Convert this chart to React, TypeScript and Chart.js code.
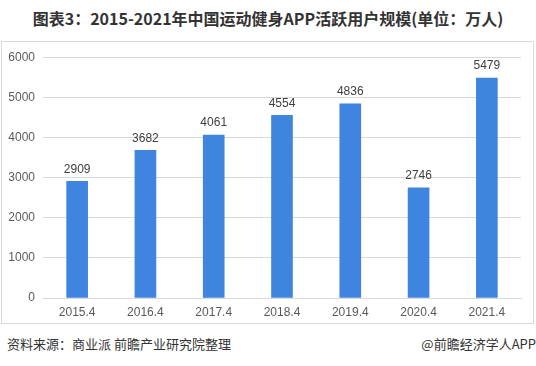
import React, { useEffect, useRef } from "react";
import { Chart, registerables } from "chart.js";

Chart.register(...registerables);

const categories = ["2015.4", "2016.4", "2017.4", "2018.4", "2019.4", "2020.4", "2021.4"];
const users = [2909, 3682, 4061, 4554, 4836, 2746, 5479];
const yTicks = [0, 1000, 2000, 3000, 4000, 5000, 6000];

const title = "图表3：2015-2021年中国运动健身APP活跃用户规模(单位：万人)";
const source = "资料来源：商业派 前瞻产业研究院整理";
const credit = "@前瞻经济学人APP";

const FONT = "'Liberation Sans', Arial, 'Noto Sans CJK SC', sans-serif";
const CJK = "'Noto Sans CJK SC', 'Microsoft YaHei', sans-serif";

const valueLabels = {
  id: "valueLabels",
  afterDatasetsDraw(chart: any) {
    const ctx = chart.ctx;
    const meta = chart.getDatasetMeta(0);
    ctx.save();
    ctx.font = `12px ${FONT}`;
    ctx.fillStyle = "#404040";
    ctx.textAlign = "center";
    ctx.textBaseline = "bottom";
    meta.data.forEach((bar: any, i: number) => {
      ctx.fillText(String(chart.data.datasets[0].data[i]), bar.x, bar.y - 6);
    });
    ctx.restore();
  },
};

export default function App() {
  const ref = useRef<HTMLCanvasElement>(null);
  useEffect(() => {
    if (!ref.current) return;
    const chart = new Chart(ref.current, {
      type: "bar",
      data: {
        labels: categories,
        datasets: [
          {
            data: users,
            backgroundColor: "#3F85E0",
            barThickness: 21,
          },
        ],
      },
      options: {
        animation: false,
        responsive: false,
        maintainAspectRatio: false,
        layout: { padding: { left: 0, right: 12, top: 14, bottom: 0 } },
        plugins: { legend: { display: false }, tooltip: { enabled: false } },
        scales: {
          x: {
            grid: { display: false, drawTicks: false },
            border: { display: true, color: "#d9d9d9" },
            ticks: {
              padding: 7,
              color: "#595959",
              font: { family: FONT, size: 12 },
            },
            afterFit(scale: any) {
              scale.height = 25;
            },
          },
          y: {
            min: 0,
            max: yTicks[yTicks.length - 1],
            afterBuildTicks(scale: any) {
              scale.ticks = yTicks.map((v) => ({ value: v }));
            },
            grid: { color: "#d9d9d9", drawTicks: false },
            border: { display: false },
            ticks: {
              padding: 8,
              color: "#595959",
              font: { family: FONT, size: 12 },
              callback: (v: any) => String(v),
            },
            afterFit(scale: any) {
              scale.width = 41;
            },
          },
        },
      },
      plugins: [valueLabels],
    });
    return () => chart.destroy();
  }, []);

  return (
    <div
      style={{
        position: "absolute",
        left: 0,
        top: 0,
        width: 536,
        height: 366,
        background: "#fff",
        overflow: "hidden",
      }}
    >
      <div
        style={{
          position: "absolute",
          left: 0,
          top: 7,
          width: 536,
          textAlign: "center",
          fontFamily: CJK,
          fontWeight: 700,
          fontSize: 16,
          lineHeight: "22px",
          color: "#333",
          whiteSpace: "nowrap",
        }}
      >
        {title}
      </div>
      <div
        style={{
          position: "absolute",
          left: 1,
          top: 41,
          width: 531,
          height: 281,
          border: "1px solid #d9d9d9",
        }}
      >
        <canvas ref={ref} width={531} height={281} style={{ display: "block" }} />
      </div>
      <div
        style={{
          position: "absolute",
          left: 7,
          top: 334,
          fontFamily: CJK,
          fontSize: 13,
          lineHeight: "20px",
          color: "#333",
          whiteSpace: "nowrap",
        }}
      >
        {source}
      </div>
      <div
        style={{
          position: "absolute",
          right: 0,
          top: 334,
          fontFamily: CJK,
          fontSize: 13,
          lineHeight: "20px",
          color: "#333",
          whiteSpace: "nowrap",
        }}
      >
        {credit}
      </div>
    </div>
  );
}
